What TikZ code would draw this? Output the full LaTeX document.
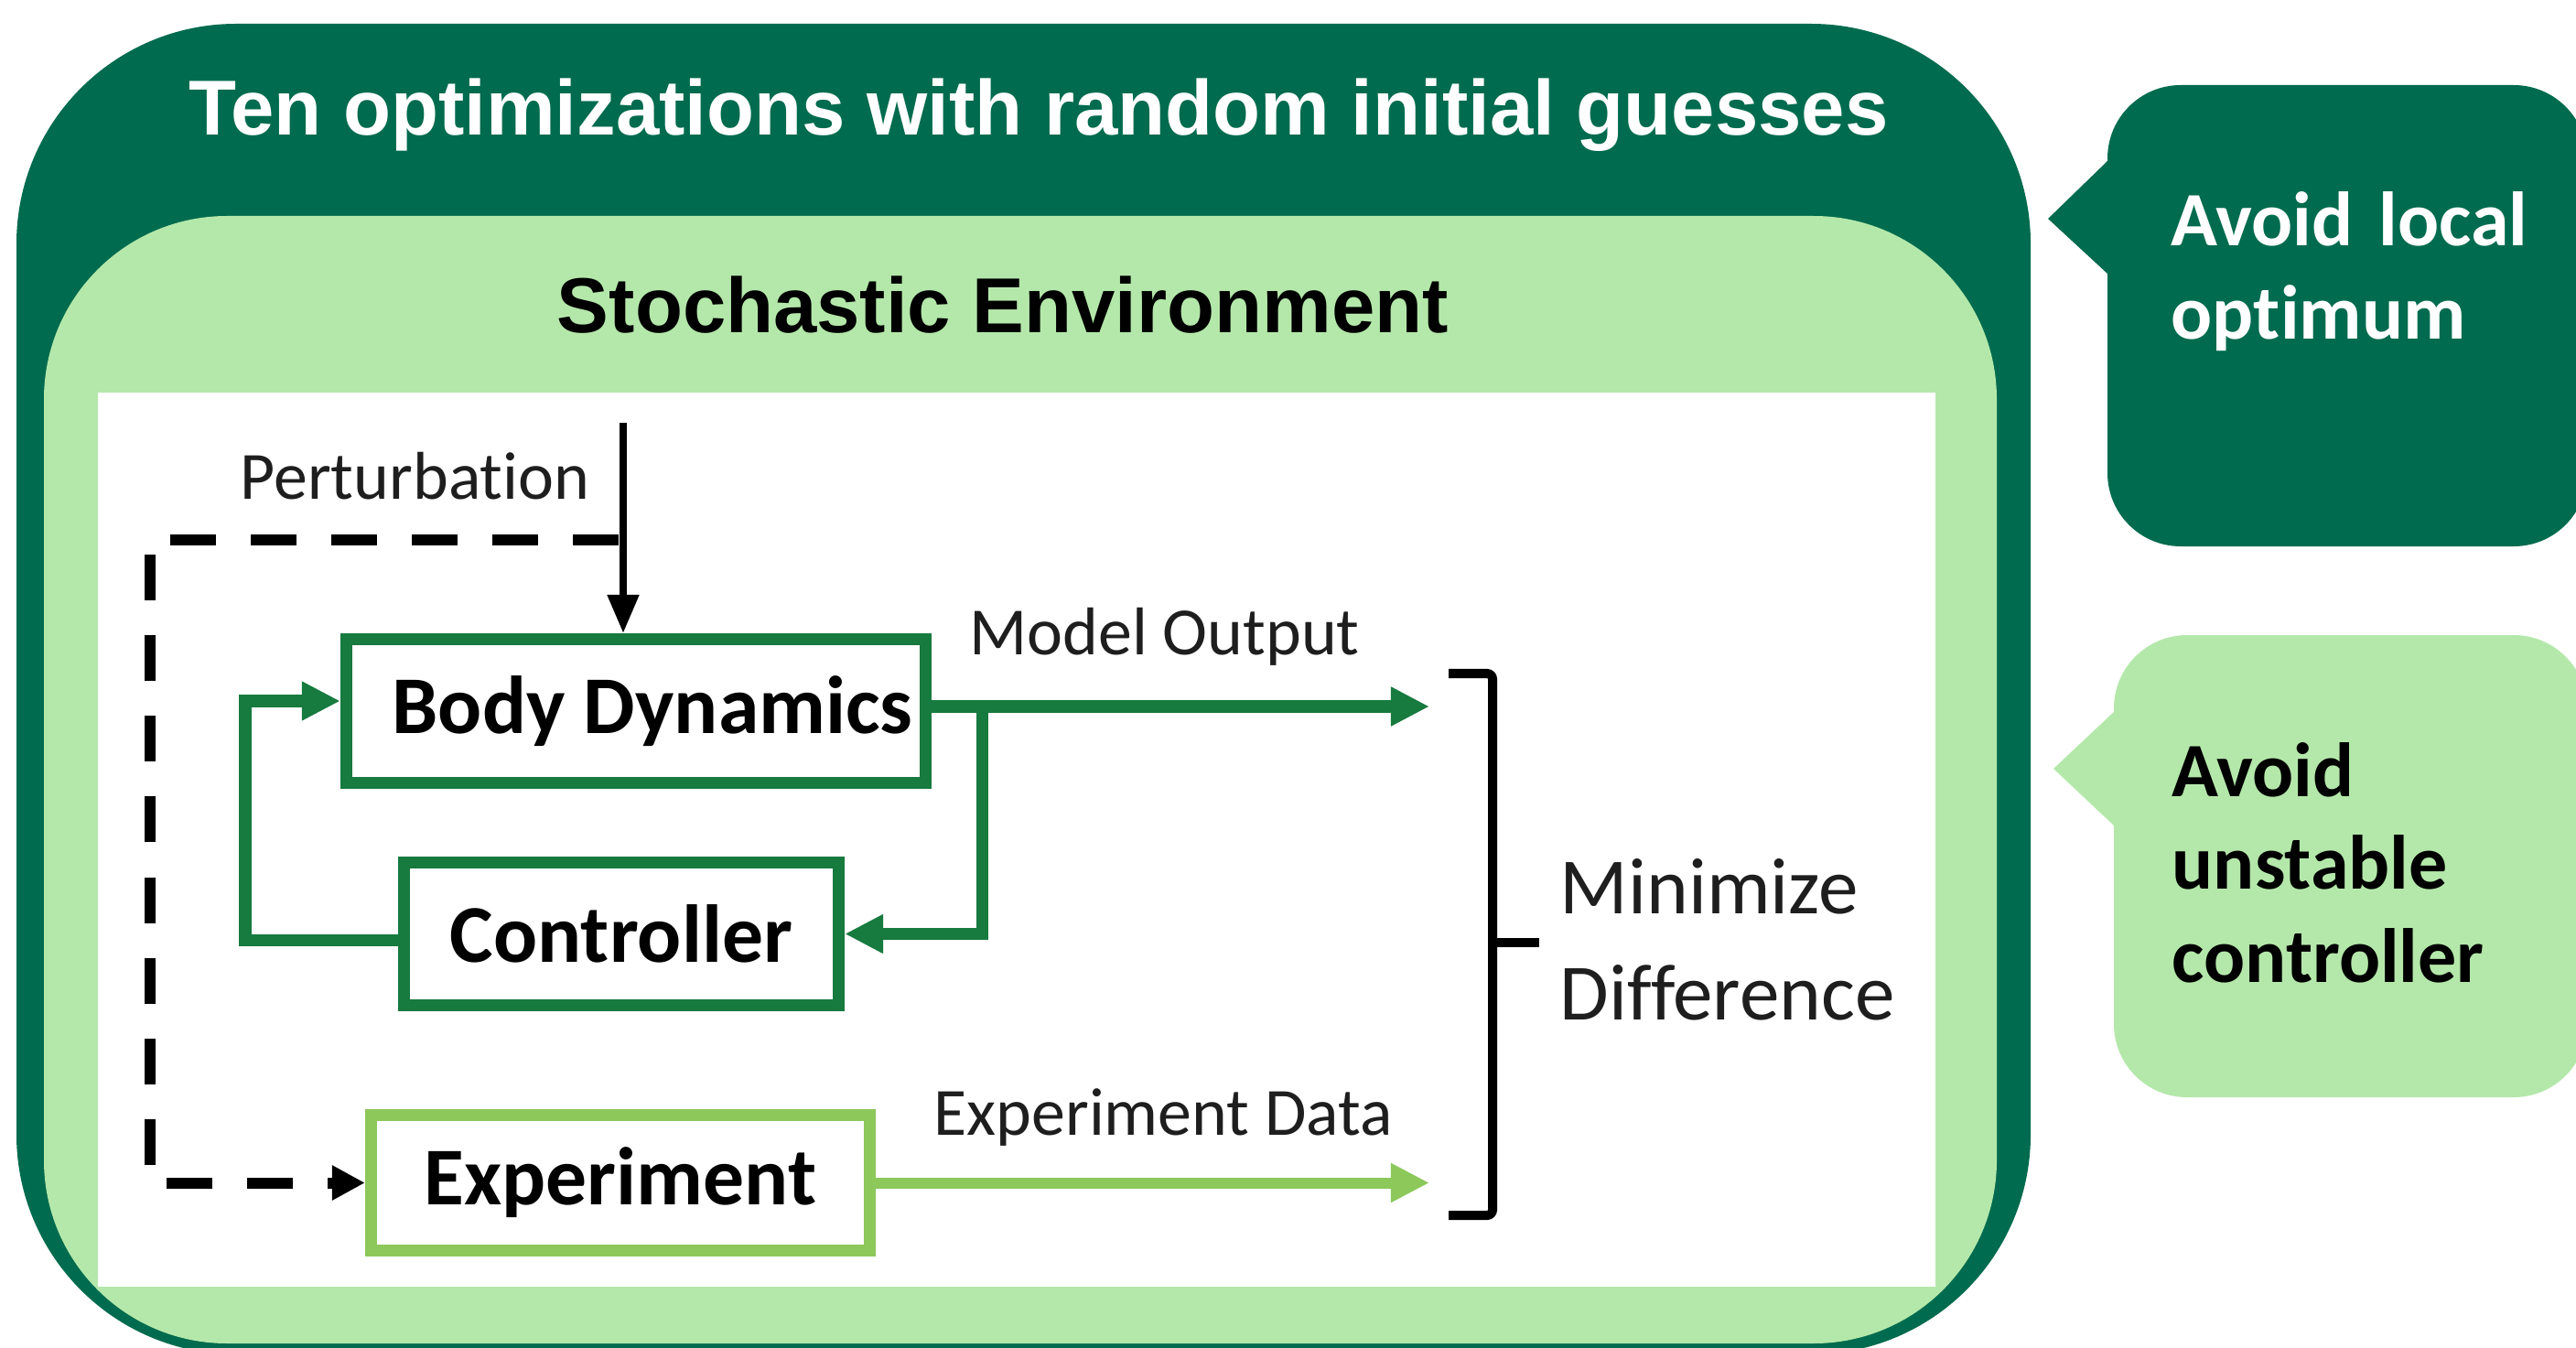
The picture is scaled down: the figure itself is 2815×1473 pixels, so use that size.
\documentclass[tikz,border=0pt]{standalone}
\usepackage{fontspec}
\setmainfont{Liberation Sans}
\newfontfamily\carl{Carlito}[Ligatures=NoCommon]
\newfontfamily\arl{Liberation Sans}
\usetikzlibrary{arrows.meta}
\definecolor{dkgreen}{HTML}{006B4E}
\definecolor{ltgreen}{HTML}{B4E8AA}
\definecolor{boxgreen}{HTML}{177A3F}
\definecolor{expgreen}{HTML}{8CC85A}
\definecolor{inkgray}{HTML}{1E1E1E}
\tikzset{
  blockbox/.style={draw=boxgreen, line width=0.13cm, inner sep=0pt, text=black,
    font=\carl\bfseries\fontsize{25.5}{30}\selectfont},
  gline/.style={draw=boxgreen, line width=0.13cm},
  eline/.style={draw=expgreen, line width=0.12cm},
  tipg/.style={-{Triangle[length=0.42cm,width=0.40cm]}},
  kline/.style={draw=black, line width=0.08cm, -{Triangle[length=0.42cm,width=0.33cm]}},
  dashline/.style={draw=black, line width=0.12cm, dash pattern=on 0.50cm off 0.38cm,
    -{Triangle[length=0.36cm,width=0.36cm]}},
  bracketline/.style={draw=black, line width=0.10cm, rounded corners=0.06cm},
  smalltxt/.style={inner sep=0pt, text=inkgray, font=\carl\fontsize{21}{25}\selectfont},
  midtxt/.style={inner sep=0pt, text=inkgray, font=\carl\fontsize{24.8}{29}\selectfont},
  headtxt/.style={inner sep=0pt, font=\arl\bfseries\fontsize{24.2}{29}\selectfont},
  calltxt/.style={inner sep=0pt, align=left, font=\carl\bfseries\fontsize{23.9}{28.9}\selectfont}
}
\begin{document}
\begin{tikzpicture}[x=0.01cm, y=-0.01cm]
\useasboundingbox (0,0) rectangle (2815,1473);
\fill[white] (0,0) rectangle (2815,1473);
% outer frames
\fill[dkgreen, rounded corners=2.4cm] (18,26) rectangle (2219,1480);
\fill[ltgreen, rounded corners=2.0cm] (48,236) rectangle (2182,1468);
\fill[white] (107,429) rectangle (2115,1406);
% callouts
\fill[dkgreen, rounded corners=0.8cm] (2303,93) rectangle (2827,597);
\fill[dkgreen] (2304,175) -- (2238,239) -- (2304,300) -- cycle;
\fill[ltgreen, rounded corners=0.8cm] (2310,694) rectangle (2827,1199);
\fill[ltgreen] (2311,777) -- (2244,840) -- (2311,903) -- cycle;
% headings
\node[headtxt, text=white, anchor=base] (title) at (1135,148) {Ten optimizations with random initial guesses};
\node[headtxt, text=black, anchor=base] (env) at (1096,364) {Stochastic Environment};
\node[calltxt, text=white, anchor=base west, text width=4.3cm] (call1) at (2372,269) {Avoid local\\optimum};
\node[calltxt, text=black, anchor=base west, text width=4.3cm] (call2) at (2373,870) {Avoid\\unstable\\controller};
% blocks
\node[blockbox, minimum width=6.33cm, minimum height=1.57cm] (bd) at (695,777) {\hspace*{0.36cm}Body Dynamics};
\node[blockbox, minimum width=4.75cm, minimum height=1.56cm] (ctl) at (679,1020.5) {Controller};
\node[blockbox, draw=expgreen, line width=0.13cm, minimum width=5.45cm, minimum height=1.48cm] (exp) at (678,1292.5) {Experiment};
% labels
\node[smalltxt, anchor=base west] (ptlabel) at (262,545) {Perturbation};
\node[smalltxt, anchor=base west] (molabel) at (1059,715) {Model Output};
\node[smalltxt, anchor=base west] (edlabel) at (1020,1240) {Experiment Data};
\node[midtxt, anchor=base west] (min1) at (1704,998) {Minimize};
\node[midtxt, anchor=base west] (min2) at (1704,1114) {Difference};
% helper coordinates
\coordinate (ptop) at (681,462);
\coordinate (dA) at (676,590);
\coordinate (dB) at (164,590);
\coordinate (dC) at (164,1292.5);
\coordinate (moEnd) at (1562,772);
\coordinate (br) at (1073,772);
\coordinate (fbL) at (268,1027);
\coordinate (fbT) at (268,766);
\coordinate (bk1) at (1583,736);
\coordinate (bk2) at (1631,736);
\coordinate (bk3) at (1631,1328);
\coordinate (bk4) at (1583,1328);
\coordinate (bkm) at (1631,1030);
\coordinate (bkt) at (1682,1030);
% connectors
\draw[kline] (ptop) -- (ptop |- bd.north);
\draw[dashline] (dA) -- (dB) -- (dC) -- (exp.west);
\draw[gline, tipg] (bd.east |- moEnd) -- (moEnd);
\draw[gline, tipg] (br) -- (br |- ctl.east) -- (ctl.east);
\draw[gline, tipg] (ctl.west |- fbL) -- (fbL) -- (fbT) -- (bd.west |- fbT);
\draw[eline, tipg] (exp.east) -- (exp.east -| moEnd);
\draw[bracketline] (bk1) -- (bk2) -- (bk3) -- (bk4);
\draw[bracketline] (bkm) -- (bkt);
\end{tikzpicture}
\end{document}
